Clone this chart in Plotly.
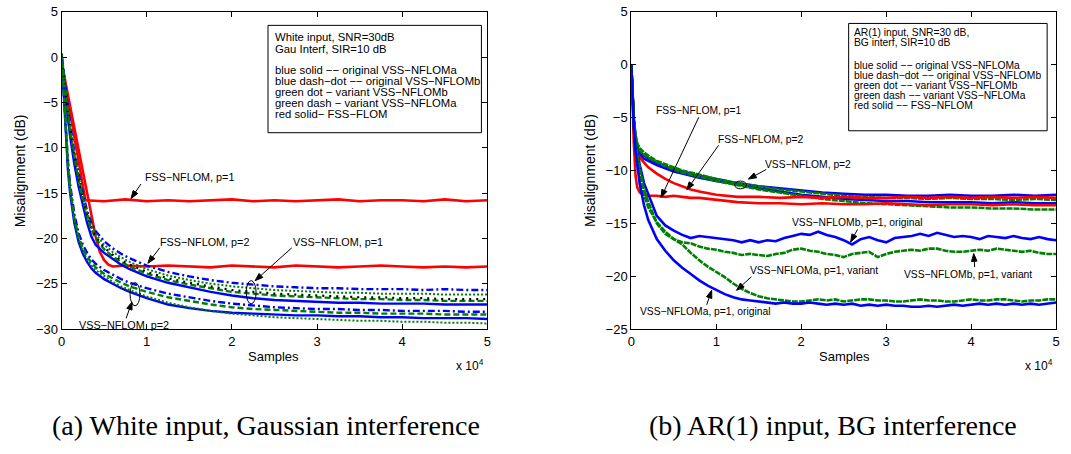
import math
import plotly.graph_objects as go

W, H = 1071, 454

# ---------------- data: panel (a) White input, Gaussian interference ----------------
xa = [0, 250, 500, 750, 1000, 1500, 2000, 2500, 3000, 3500, 4000, 5000, 6000, 7000, 8000,
      10000, 12500, 15000, 17500, 20000, 22500, 25000, 27500, 30000, 32500, 35000, 37500,
      40000, 42500, 45000, 47500, 50000]

a_blue_solid_p1 = [0.2, -2.3, -4.6, -6.8, -8.7, -11.8, -14.3, -16.4, -18.3, -19.8, -20.7, -21.6, -22.3, -22.9, -23.4,
                   -24.2, -24.9, -25.4, -25.9, -26.3, -26.6, -26.8, -26.9, -27.0, -27.1, -27.1, -27.2, -27.2, -27.2, -27.3, -27.3, -27.3]
a_blue_dashdot_p1 = [0.3, -1.8, -3.8, -5.7, -7.4, -10.4, -12.9, -14.9, -17.0, -18.3, -19.2, -20.3, -21.1, -21.7, -22.2,
                     -23.0, -23.7, -24.2, -24.6, -24.9, -25.1, -25.3, -25.4, -25.5, -25.5, -25.6, -25.6, -25.6, -25.7, -25.6, -25.7, -25.7]
a_green_dot_p1 = [0.4, -1.9, -4.0, -6.0, -7.7, -10.7, -13.2, -15.2, -17.2, -18.6, -19.5, -20.7, -21.5, -22.1, -22.6,
                  -23.4, -24.1, -24.6, -25.0, -25.3, -25.5, -25.7, -25.8, -25.9, -26.0, -26.0, -26.1, -26.1, -26.1, -26.2, -26.2, -26.2]
a_black_dash_p1 = [0.3, -2.0, -4.2, -6.2, -8.0, -11.0, -13.5, -15.5, -17.4, -18.8, -19.8, -21.0, -21.8, -22.4, -22.9,
                   -23.7, -24.4, -24.9, -25.3, -25.7, -25.9, -26.1, -26.2, -26.3, -26.4, -26.5, -26.5, -26.6, -26.6, -26.7, -26.7, -26.7]
a_green_dash_p1 = [0.4, -2.1, -4.3, -6.4, -8.2, -11.2, -13.7, -15.7, -17.6, -19.0, -20.0, -21.2, -22.0, -22.6, -23.1,
                   -23.9, -24.6, -25.1, -25.5, -25.9, -26.1, -26.3, -26.4, -26.5, -26.6, -26.7, -26.7, -26.8, -26.8, -26.9, -26.9, -26.9]

a_blue_solid_p2 = [0.2, -4.5, -8.8, -12.5, -15.0, -18.3, -20.4, -21.7, -22.6, -23.3, -23.8, -24.5, -25.0, -25.5, -25.9,
                   -26.6, -27.3, -27.7, -28.0, -28.2, -28.3, -28.4, -28.5, -28.5, -28.6, -28.6, -28.7, -28.7, -28.8, -28.8, -28.8, -28.9]
a_blue_dashdot_p2 = [0.3, -4.0, -8.0, -11.5, -14.0, -17.3, -19.4, -20.7, -21.6, -22.3, -22.8, -23.5, -24.0, -24.5, -24.9,
                     -25.5, -26.1, -26.5, -26.9, -27.2, -27.4, -27.6, -27.7, -27.8, -27.8, -27.9, -27.9, -28.0, -28.0, -28.0, -28.1, -28.1]
a_green_dash_p2 = [0.4, -4.2, -8.3, -11.9, -14.4, -17.7, -19.8, -21.1, -22.0, -22.7, -23.2, -23.9, -24.4, -24.9, -25.3,
                   -25.9, -26.5, -26.9, -27.3, -27.6, -27.8, -27.9, -28.0, -28.1, -28.2, -28.2, -28.3, -28.3, -28.3, -28.4, -28.4, -28.4]
a_green_dot_p2 = [0.4, -4.3, -8.5, -12.2, -14.7, -18.0, -20.1, -21.4, -22.3, -23.0, -23.5, -24.2, -24.8, -25.3, -25.7,
                  -26.4, -27.1, -27.6, -28.0, -28.3, -28.5, -28.7, -28.8, -28.9, -29.0, -29.1, -29.1, -29.2, -29.2, -29.3, -29.3, -29.4]

xa_red1 = [0, 2800, 5000, 7500, 10000, 12500, 15000, 17500, 20000, 22500, 25000, 27500, 30000, 32500,
           35000, 37500, 40000, 42500, 45000, 47500, 50000]
a_red_p1 = [-0.6, -15.8, -15.9, -15.7, -15.9, -15.8, -15.9, -15.8, -15.7, -15.9, -15.8, -15.9, -15.8, -15.7,
            -15.9, -15.8, -15.8, -15.9, -15.7, -15.9, -15.8]
xa_red2 = [0, 1000, 2000, 3000, 4000, 4500, 5000, 5500, 6000, 7500, 10000, 12500, 15000, 17500, 20000, 22500,
           25000, 27500, 30000, 32500, 35000, 37500, 40000, 42500, 45000, 47500, 50000]
a_red_p2 = [-0.6, -5.4, -10.2, -15.0, -19.8, -21.5, -22.4, -22.9, -23.1, -23.0, -23.1, -23.0, -23.1, -23.2, -23.0, -23.1,
            -23.2, -23.0, -23.1, -23.2, -23.1, -23.0, -23.1, -23.2, -23.1, -23.2, -23.1]

# ---------------- data: panel (b) AR(1) input, BG interference ----------------
xb = [0, 150, 300, 500, 700, 1000, 1500, 2000, 3000, 4000, 5000, 6000, 7000, 8000, 10000, 12500, 15000,
      17500, 20000, 22500, 25000, 27500, 30000, 32500, 35000, 37500, 40000, 42500, 45000, 47500, 50000]
b_blue_p2_a = [0, -3.0, -5.2, -6.9, -7.7, -8.3, -8.6, -8.9, -9.3, -9.6, -9.9, -10.1, -10.3, -10.5, -10.8, -11.2, -11.5,
               -11.7, -11.9, -12.1, -12.2, -12.3, -12.3, -12.4, -12.4, -12.3, -12.4, -12.4, -12.3, -12.4, -12.3]
b_green_p2_a = [0, -2.9, -5.0, -6.6, -7.4, -7.9, -8.3, -8.6, -9.1, -9.4, -9.7, -10.0, -10.2, -10.4, -10.8, -11.2, -11.5,
                -11.8, -12.0, -12.2, -12.4, -12.5, -12.6, -12.6, -12.7, -12.6, -12.7, -12.7, -12.8, -12.7, -12.8]
b_blue_p2_b = [0, -3.1, -5.3, -7.0, -7.9, -8.5, -8.9, -9.1, -9.5, -9.8, -10.1, -10.3, -10.5, -10.7, -11.0, -11.3, -11.7,
               -12.0, -12.3, -12.5, -12.7, -12.8, -12.9, -12.9, -13.0, -13.0, -13.0, -13.1, -13.0, -13.1, -13.1]
b_green_p2_b = [0, -2.9, -5.1, -6.7, -7.5, -8.1, -8.5, -8.8, -9.2, -9.6, -9.9, -10.2, -10.4, -10.6, -11.0, -11.4, -11.8,
                -12.1, -12.4, -12.7, -12.9, -13.1, -13.2, -13.3, -13.4, -13.5, -13.5, -13.6, -13.6, -13.7, -13.7]
b_red_p1 = [0, -4.0, -7.5, -10.5, -11.6, -12.1, -12.3, -12.4, -12.4, -12.5, -12.4, -12.5, -12.6, -12.6, -12.8, -13.0, -13.1,
            -13.1, -13.2, -13.1, -13.2, -13.2, -13.1, -13.2, -13.3, -13.2, -13.2, -13.3, -13.2, -13.3, -13.3]
b_red_p2 = [0, -3.0, -5.5, -7.5, -8.3, -8.8, -9.3, -9.7, -10.3, -10.8, -11.2, -11.5, -11.8, -12.0, -12.3, -12.5, -12.5,
            -12.6, -12.5, -12.6, -12.5, -12.6, -12.6, -12.5, -12.6, -12.5, -12.6, -12.5, -12.6, -12.5, -12.6]

xc = [0, 150, 300, 500, 700, 1000, 1500, 2000,
      3000, 4000, 5000, 6000, 7000, 8000, 9000, 10000,
      11000, 12000, 13000, 14000, 15000, 16000, 17000, 18000, 19000, 20000,
      21000, 22000, 23000, 24000, 25000, 26000, 27000, 28000, 29000, 30000,
      31000, 32000, 33000, 34000, 35000, 36000, 37000, 38000, 39000, 40000,
      41000, 42000, 43000, 44000, 45000, 46000, 47000, 48000, 49000, 50000]
b_blue_nflomb_p1 = [0, -3.2, -5.6, -7.4, -8.4, -9.5, -11.2, -12.3,
                    -14.3, -15.2, -15.7, -16.1, -16.4, -16.2, -16.3, -16.4,
                    -16.5, -16.6, -16.8, -16.6, -16.8, -16.6, -16.7, -16.4, -16.2, -16.0,
                    -16.1, -15.8, -16.1, -16.3, -16.6, -17.0, -16.5, -16.3, -16.6, -16.8,
                    -16.4, -16.3, -16.2, -16.0, -16.2, -15.9, -16.1, -16.3, -16.2, -16.3,
                    -16.5, -16.2, -16.3, -16.4, -16.2, -16.4, -16.5, -16.3, -16.5, -16.6]
b_green_nflomb_p1 = [0, -3.1, -5.5, -7.4, -8.4, -9.8, -11.8, -13.0,
                     -15.0, -16.0, -16.5, -16.8, -16.9, -17.2, -17.4, -17.5,
                     -17.7, -17.8, -18.0, -17.9, -18.0, -18.1, -17.9, -17.8, -17.5, -17.4,
                     -17.6, -17.7, -17.9, -18.0, -18.2, -17.9, -17.8, -17.7, -18.2, -17.9,
                     -17.7, -17.6, -17.5, -17.6, -17.4, -17.4, -17.6, -17.7, -17.7, -17.6,
                     -17.5, -17.6, -17.4, -17.5, -17.6, -17.7, -17.6, -17.8, -17.9, -17.9]
b_blue_nfloma_p1 = [0, -3.4, -6.0, -8.2, -9.6, -11.3, -13.3, -14.7,
                    -16.5, -17.6, -18.5, -19.2, -19.8, -20.4, -20.9, -21.3,
                    -21.7, -22.0, -22.2, -22.3, -22.4, -22.5, -22.6, -22.5, -22.6, -22.6,
                    -22.5, -22.6, -22.7, -22.6, -22.7, -22.6, -22.8, -22.7, -22.8, -22.7,
                    -22.8, -22.8, -22.9, -22.9, -22.8, -22.9, -22.8, -22.7, -22.8, -22.7,
                    -22.6, -22.7, -22.6, -22.7, -22.6, -22.7, -22.6, -22.7, -22.6, -22.5]
b_green_nfloma_p1 = [0, -3.2, -5.8, -7.8, -8.9, -10.4, -12.3, -13.5,
                     -14.9, -15.8, -16.5, -17.0, -17.8, -18.5, -19.1, -19.6,
                     -20.1, -20.7, -21.2, -21.6, -21.9, -22.1, -22.2, -22.3, -22.4, -22.4,
                     -22.3, -22.2, -22.3, -22.2, -22.4, -22.3, -22.2, -22.2, -22.3, -22.3,
                     -22.4, -22.4, -22.3, -22.2, -22.3, -22.3, -22.4, -22.4, -22.3, -22.2,
                     -22.3, -22.3, -22.2, -22.2, -22.3, -22.4, -22.3, -22.3, -22.2, -22.2]

x_tick_vals = [0, 10000, 20000, 30000, 40000, 50000]
x_tick_text = ["0", "1", "2", "3", "4", "5"]
ya_tick_vals = [-30, -25, -20, -15, -10, -5, 0, 5]
yb_tick_vals = [-25, -20, -15, -10, -5, 0, 5]

BLUE, GREEN, RED, BLACK = "#0000ff", "#008000", "#ff0000", "#000000"
SANS = "Liberation Sans, Arial, sans-serif"

fig = go.Figure()


def add(x, y, color, dash, width, ax):
    fig.add_trace(go.Scatter(x=x, y=y, mode="lines", xaxis="x" if ax == 1 else "x2",
                             yaxis="y" if ax == 1 else "y2", hoverinfo="skip",
                             line=dict(color=color, dash=dash, width=width)))


DD = "7px,3px,2px,3px"
DOT = "2px,2px"
DSH = "6px,3px"
# panel a
add(xa_red1, a_red_p1, RED, "solid", 2.6, 1)
add(xa_red2, a_red_p2, RED, "solid", 2.6, 1)
add(xa, a_blue_solid_p1, BLUE, "solid", 2.4, 1)
add(xa, a_blue_solid_p2, BLUE, "solid", 2.4, 1)
add(xa, a_blue_dashdot_p1, BLUE, DD, 2.4, 1)
add(xa, a_blue_dashdot_p2, BLUE, DD, 2.4, 1)
add(xa, a_green_dash_p1, GREEN, DSH, 2.4, 1)
add(xa, a_green_dash_p2, GREEN, DSH, 2.4, 1)
add(xa, a_black_dash_p1, BLACK, "2px,5px", 2.2, 1)
add(xa, a_green_dot_p1, GREEN, DOT, 2.0, 1)
add(xa, a_green_dot_p2, GREEN, DOT, 2.0, 1)
# panel b
add(xb, b_blue_p2_a, BLUE, "solid", 2.5, 2)
add(xb, b_blue_p2_b, BLUE, "solid", 2.5, 2)
add(xb, b_green_p2_a, GREEN, "6px,1px", 2.5, 2)
add(xb, b_green_p2_b, GREEN, "6px,1px", 2.5, 2)
add(xb, b_red_p1, RED, "solid", 2.6, 2)
add(xb, b_red_p2, RED, "solid", 2.6, 2)
add(xc, b_blue_nflomb_p1, BLUE, "solid", 2.6, 2)
add(xc, b_green_nflomb_p1, GREEN, "6px,1px", 2.6, 2)
add(xc, b_green_nfloma_p1, GREEN, "6px,1px", 2.6, 2)
add(xc, b_blue_nfloma_p1, BLUE, "solid", 2.6, 2)


def px(x):
    return x / W


def py(y):
    return 1 - y / H


axis_common = dict(showgrid=False, zeroline=False, showline=True, linecolor="black", linewidth=1,
                   mirror="ticks", ticks="inside", ticklen=5, tickcolor="black",
                   ticklabeloverflow="allow",
                   tickfont=dict(family=SANS, size=13, color="black"))

fig.update_layout(
    width=W, height=H, margin=dict(l=0, r=0, t=0, b=0),
    paper_bgcolor="white", plot_bgcolor="white", showlegend=False,
    xaxis=dict(domain=[px(58), px(487)], range=[0, 50000], tickvals=x_tick_vals, ticktext=x_tick_text,
               anchor="y", **axis_common),
    yaxis=dict(domain=[py(333), py(5)], range=[-30, 5], tickvals=ya_tick_vals, anchor="x", **axis_common),
    xaxis2=dict(domain=[px(632), px(1060)], range=[0, 50000], tickvals=x_tick_vals, ticktext=x_tick_text,
                anchor="y2", **axis_common),
    yaxis2=dict(domain=[py(333), py(5)], range=[-25, 5], tickvals=yb_tick_vals, anchor="x2", **axis_common),
)

ann = []
shapes = []


def text(x, y, s, size=11, xanchor="center", family=SANS, angle=0):
    ann.append(dict(x=px(x), y=py(y), xref="paper", yref="paper", text=s, showarrow=False,
                    xanchor=xanchor, yanchor="middle", textangle=angle,
                    font=dict(family=family, size=size, color="black")))


def arrow(tip, tail, head=8.0, half=2.8):
    dx, dy = tip[0] - tail[0], tip[1] - tail[1]
    n = math.hypot(dx, dy)
    ux, uy = dx / n, dy / n
    bx, by = tip[0] - ux * head, tip[1] - uy * head
    shapes.append(dict(type="line", xref="paper", yref="paper", x0=px(tail[0]), y0=py(tail[1]),
                       x1=px(bx), y1=py(by), line=dict(color="black", width=1)))
    p1 = (bx - uy * half, by + ux * half)
    p2 = (bx + uy * half, by - ux * half)
    path = "M {:.5f},{:.5f} L {:.5f},{:.5f} L {:.5f},{:.5f} Z".format(
        px(tip[0]), py(tip[1]), px(p1[0]), py(p1[1]), px(p2[0]), py(p2[1]))
    shapes.append(dict(type="path", xref="paper", yref="paper", path=path,
                       fillcolor="black", line=dict(color="black", width=1)))


# axis titles
text(17, 169, "Misalignment (dB)", size=14, angle=-90)
text(591, 169, "Misalignment (dB)", size=14, angle=-90)
text(272, 361, "Samples", size=13)
text(847, 361, "Samples", size=13)
text(453, 370, "x 10<sup>4</sup>", size=12, xanchor="left")
text(1027, 370, "x 10<sup>4</sup>", size=12, xanchor="left")

# captions
text(264, 433, "(a) White input, Gaussian interference", size=28, family="Liberation Serif, serif")
text(835, 433, "(b) AR(1) input, BG interference", size=28, family="Liberation Serif, serif")

# legend boxes
shapes += [
    dict(type="rect", xref="paper", yref="paper", x0=px(266), x1=px(481), y0=py(130), y1=py(19),
         line=dict(color="black", width=1), fillcolor="white", layer="above"),
    dict(type="rect", xref="paper", yref="paper", x0=px(851), x1=px(1051), y0=py(128), y1=py(17),
         line=dict(color="black", width=1), fillcolor="white", layer="above"),
]
left_lines = [(31.5, "White input, SNR=30dB"), (43.5, "Gau Interf, SIR=10 dB"),
              (65.0, "blue solid −− original VSS−NFLOMa"), (76.4, "blue dash−dot −− original VSS−NFLOMb"),
              (87.8, "green dot − variant VSS−NFLOMb"), (99.2, "green dash − variant VSS−NFLOMa"),
              (110.6, "red solid− FSS−FLOM")]
for yy, s in left_lines:
    text(271, yy, s, size=11.3, xanchor="left")
right_lines = [(26.5, "AR(1) input, SNR=30 dB,"), (37, "BG interf, SIR=10 dB"),
               (60.5, "blue solid −− original VSS−NFLOMa"), (70.8, "blue dash−dot −− original VSS−NFLOMb"),
               (81.1, "green dot −− variant VSS−NFLOMb"), (91.4, "green dash −− variant VSS−NFLOMa"),
               (101.7, "red solid −− FSS−NFLOM")]
for yy, s in right_lines:
    text(854, yy, s, size=10.3, xanchor="left")

# panel a annotations
text(187, 176, "FSS−NFLOM, p=1", size=10.8)
arrow((128, 198), (138, 183))
text(202, 243, "FSS−NFLOM, p=2", size=10.8)
arrow((145, 265), (157, 249))
text(337, 243, "VSS−NFLOM, p=1", size=10.8)
arrow((253, 283), (290, 249))
text(121, 329, "VSS−NFLOM, p=2", size=10.8)
arrow((129, 305), (123, 322))
for cx, cy in [(249, 295), (132, 297)]:
    shapes.append(dict(type="circle", xref="paper", yref="paper", x0=px(cx - 5), x1=px(cx + 5),
                       y0=py(cy + 12), y1=py(cy - 12), line=dict(color="black", width=1)))

# panel b annotations
text(700, 107, "FSS−NFLOM, p=1", size=10.3)
arrow((662, 197), (700, 114))
text(763, 137, "FSS−NFLOM, p=2", size=10.3)
arrow((688, 189), (720, 143))
text(810, 163, "VSS−NFLOM, p=2", size=10.3)
arrow((750, 178), (768, 168))
shapes.append(dict(type="circle", xref="paper", yref="paper", x0=px(736), x1=px(748),
                   y0=py(188), y1=py(180), line=dict(color="black", width=1)))
text(860, 223, "VSS−NFLOMb, p=1, original", size=10.3)
arrow((853, 243), (860, 230))
text(971, 277, "VSS−NFLOMb, p=1, variant", size=10.3)
arrow((977, 255), (978, 269))
text(816, 273, "VSS−NFLOMa, p=1, variant", size=10.3)
arrow((738, 293), (753, 279))
text(707, 315, "VSS−NFLOMa, p=1, original", size=10.3)
arrow((713, 293), (708, 308))

fig.update_layout(annotations=ann, shapes=shapes)
fig.write_html("out.html")
